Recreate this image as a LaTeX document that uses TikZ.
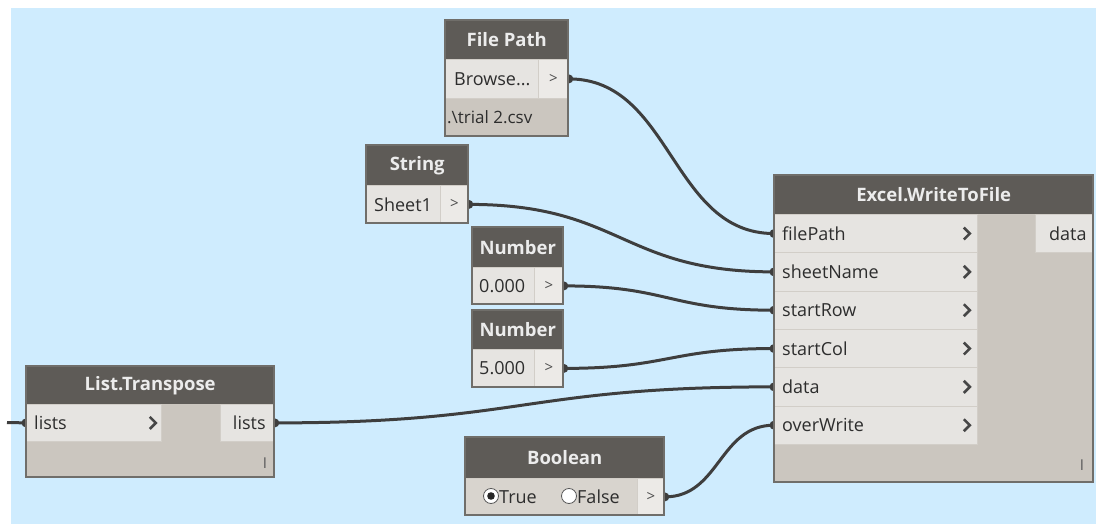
\documentclass[tikz,border=0pt]{standalone}
\usepackage{fontspec}
\setmainfont{Open Sans}
\definecolor{canvas}{RGB}{207,236,254}
\definecolor{hdrc}{RGB}{94,91,87}
\definecolor{hdrtext}{RGB}{236,236,236}
\definecolor{rowc}{RGB}{230,228,225}
\definecolor{portc}{RGB}{236,234,231}
\definecolor{boolrow}{RGB}{216,212,206}
\definecolor{bodyc}{RGB}{203,198,191}
\definecolor{framec}{RGB}{112,110,106}
\definecolor{sepc}{RGB}{210,206,200}
\definecolor{wirec}{RGB}{62,62,62}
\definecolor{txtc}{RGB}{45,45,45}
\definecolor{chevc}{RGB}{70,70,70}
\pgfdeclarelayer{canvaslayer}
\pgfdeclarelayer{wirelayer}
\pgfsetlayers{canvaslayer,wirelayer,main}
\begin{document}
\begin{tikzpicture}[x=1pt,y=-1pt,
  hdr/.style={fill=hdrc,text=hdrtext,font=\bfseries\fontsize{18.5}{18.5}\selectfont,
    inner sep=0pt,anchor=north west,minimum height=39pt},
  cellbox/.style={fill=rowc,draw=sepc,line width=0.8pt,inner sep=0pt,anchor=north west},
  portbox/.style={fill=portc,draw=sepc,line width=0.8pt,inner sep=0pt,anchor=north west,
    text=gray!60!black,font=\fontsize{15}{15}\selectfont},
  lbl/.style={text=txtc,font=\fontsize{18}{18}\selectfont,inner sep=0pt,anchor=west},
  lacing/.style={text=gray!70!black,font=\fontsize{15}{15}\selectfont,inner sep=0pt},
  frame/.style={draw=framec,line width=1.2pt},
  wire/.style={draw=wirec,line width=3pt},
  chev/.style={draw=chevc,line width=2.6pt},
  radio/.style={circle,fill=white,draw=gray!70!black,line width=0.8pt,inner sep=0pt,minimum size=15pt}]

\useasboundingbox (0,0) rectangle (1096,524);
\begin{pgfonlayer}{canvaslayer}
  \fill[white] (0,0) rectangle (1096,524);
  \fill[canvas] (11,8) rectangle (1096,524);
\end{pgfonlayer}

% ---------- File Path ----------
\fill[bodyc] (445,20) rectangle (568,136);
\node[hdr,minimum width=123pt] (fpHead) at (445,20) {File Path};
\node[cellbox,minimum width=93pt,minimum height=39pt] (fpBrowse) at (445,59) {};
\node[lbl] at ([xshift=9pt]fpBrowse.west) {Browse...};
\node[portbox,minimum width=30pt,minimum height=39pt] (fpOut) at (538,59) {>};
\node[lbl,font=\fontsize{17}{17}\selectfont] (fpValue) at (447,117) {.\textbackslash trial 2.csv};
\draw[frame] (445,20) rectangle (568,136);

% ---------- String ----------
\node[hdr,minimum width=102pt,minimum height=40pt] (strHead) at (366,145) {String};
\node[cellbox,minimum width=74pt,minimum height=38pt] (strVal) at (366,185) {};
\node[lbl] at ([xshift=8pt]strVal.west) {Sheet1};
\node[portbox,minimum width=28pt,minimum height=38pt] (strOut) at (440,185) {>};
\draw[frame] (366,145) rectangle (468,223);

% ---------- Number (row) ----------
\node[hdr,minimum width=91pt,minimum height=40pt] (numAHead) at (472,227) {Number};
\node[cellbox,minimum width=62pt,minimum height=37pt] (numAVal) at (472,267) {};
\node[lbl] at ([xshift=7pt]numAVal.west) {0.000};
\node[portbox,minimum width=29pt,minimum height=37pt] (numAOut) at (534,267) {>};
\draw[frame] (472,227) rectangle (563,304);

% ---------- Number (column) ----------
\node[hdr,minimum width=91pt,minimum height=39pt] (numBHead) at (472,310) {Number};
\node[cellbox,minimum width=62pt,minimum height=38pt] (numBVal) at (472,349) {};
\node[lbl] at ([xshift=7pt]numBVal.west) {5.000};
\node[portbox,minimum width=29pt,minimum height=38pt] (numBOut) at (534,349) {>};
\draw[frame] (472,310) rectangle (563,387);

% ---------- List.Transpose ----------
\fill[bodyc] (26,366) rectangle (274,477);
\node[hdr,minimum width=248pt,minimum height=38pt] (ltHead) at (26,366) {List.Transpose};
\node[cellbox,minimum width=135pt,minimum height=37pt] (ltIn) at (26,404) {};
\node[lbl] at ([xshift=8pt]ltIn.west) {lists};
\draw[chev] ([xshift=-12pt,yshift=-6pt]ltIn.east) -- ([xshift=-6pt]ltIn.east) -- ([xshift=-12pt,yshift=6pt]ltIn.east);
\node[cellbox,minimum width=54pt,minimum height=37pt] (ltOut) at (220,404) {};
\node[lbl,anchor=east] at ([xshift=-9pt]ltOut.east) {lists};
\node[lacing] at (265,463) {I};
\draw[frame] (26,366) rectangle (274,477);

% ---------- Boolean ----------
\node[hdr,minimum width=199pt,minimum height=41pt] (boolHead) at (465,437) {Boolean};
\node[cellbox,fill=boolrow,minimum width=172pt,minimum height=37pt] (boolVal) at (465,478) {};
\node[radio] (radioTrue) at (491,496) {};
\fill[black!85] (radioTrue.center) circle (3.8pt);
\node[lbl] at (499,497) {True};
\node[radio] (radioFalse) at (569,496) {};
\node[lbl] at (577,497) {False};
\node[portbox,minimum width=27pt,minimum height=37pt] (boolOut) at (637,478) {>};
\draw[frame] (465,437) rectangle (664,515);

% ---------- Excel.WriteToFile ----------
\fill[bodyc] (774,175) rectangle (1093,482);
\node[hdr,minimum width=319pt,minimum height=39pt] (ewHead) at (774,175) {Excel.WriteToFile};
\foreach \nm/\txt [count=\i from 0] in
  {ewFilePath/filePath,ewSheetName/sheetName,ewStartRow/startRow,
   ewStartCol/startCol,ewData/data,ewOverWrite/overWrite}{
  \node[cellbox,minimum width=203pt,minimum height=38.3pt] (\nm) at (774,214+38.33*\i) {};
  \node[lbl] at ([xshift=8pt]\nm.west) {\txt};
  \draw[chev] ([xshift=-14pt,yshift=-6pt]\nm.east) -- ([xshift=-8pt]\nm.east) -- ([xshift=-14pt,yshift=6pt]\nm.east);
}
\node[cellbox,minimum width=58pt,minimum height=38pt] (ewOut) at (1035,214) {};
\node[lbl,anchor=east] at ([xshift=-7pt]ewOut.east) {data};
\node[lacing] at (1082,465) {I};
\draw[frame] (774,175) rectangle (1093,482);

% ---------- wires ----------
\coordinate (ltSource) at (7,422.5);
\begin{pgfonlayer}{wirelayer}
  \draw[wire] (ltSource) -- (ltIn.west);
  \draw[wire] (fpOut.east) .. controls +(103,0) and +(-103,0) .. (ewFilePath.west);
  \draw[wire] (strOut.east) .. controls +(153,0) and +(-153,0) .. (ewSheetName.west);
  \draw[wire] (numAOut.east) .. controls +(105,0) and +(-105,0) .. (ewStartRow.west);
  \draw[wire] (numBOut.east) .. controls +(105,0) and +(-105,0) .. (ewStartCol.west);
  \draw[wire] (ltOut.east) .. controls +(250,0) and +(-250,0) .. (ewData.west);
  \draw[wire] (boolOut.east) .. controls +(55,0) and +(-55,0) .. (ewOverWrite.west);
  \foreach \p in {ltIn.west,fpOut.east,strOut.east,numAOut.east,numBOut.east,ltOut.east,boolOut.east,
    ewFilePath.west,ewSheetName.west,ewStartRow.west,ewStartCol.west,ewData.west,ewOverWrite.west}
    \fill[wirec] (\p) circle (4.5pt);
\end{pgfonlayer}
\end{tikzpicture}
\end{document}
